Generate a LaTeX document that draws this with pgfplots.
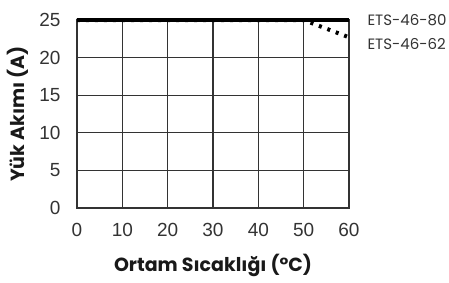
\documentclass[border=0pt]{standalone}
\usepackage{pgfplots}
\pgfplotsset{compat=1.18}
\usepackage{fontspec}
\setmainfont{Liberation Sans}
\newfontfamily\titlefont{Poppins}
\definecolor{gridc}{HTML}{333333}
\begin{document}
\begin{tikzpicture}[x=1pt,y=1pt]
\useasboundingbox (-77,-74) rectangle (372,208);
\begin{axis}[at={(0,0)}, anchor=south west, scale only axis,
  width=272pt, height=188pt,
  xmin=0, xmax=60, ymin=0, ymax=25,
  xtick={0,10,20,30,40,50,60}, ytick={0,5,10,15,20,25},
  grid=major, major grid style={line width=1.2pt, color=gridc},
  axis line style={line width=1.2pt, color=gridc},
  major tick length=0pt,
  /pgf/number format/assume math mode=true,
  tick label style={font=\fontsize{19}{19}\selectfont, text=gridc},
  xticklabel style={yshift=-12pt},
  yticklabel style={xshift=-13pt},
  xlabel={Ortam Sıcaklığı (°C)},
  ylabel={Yük Akımı (A)},
  label style={font=\titlefont\bfseries\fontsize{19}{19}\selectfont, text=black!90},
  xlabel style={at={(axis description cs:0.5,-0.303)}, anchor=center},
  ylabel style={at={(axis description cs:-0.217,0.5)}, anchor=center},
  clip=false]
\addplot[line width=4.5pt, black] coordinates {(0,25) (60,25)};
\addplot[line width=4pt, black, dash pattern=on 3pt off 6pt] coordinates {(0,25) (50,25) (60,22.7)};
\node[anchor=west, font=\titlefont\fontsize{15}{15}\selectfont, text=gridc] at (axis cs:60,25) [xshift=15pt] {ETS-46-80};
\node[anchor=west, font=\titlefont\fontsize{15}{15}\selectfont, text=gridc] at (axis cs:60,25) [xshift=15pt, yshift=-24pt] {ETS-46-62};
\end{axis}
\end{tikzpicture}
\end{document}
